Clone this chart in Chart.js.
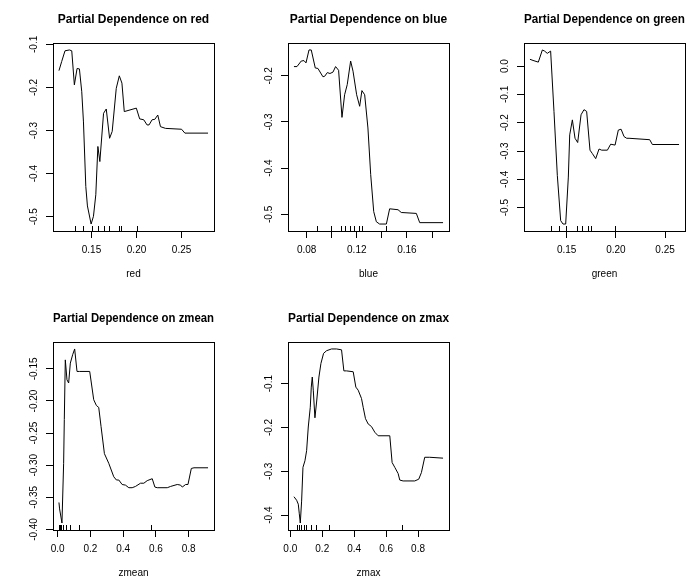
<!DOCTYPE html>
<html>
<head>
<meta charset="utf-8">
<script src="https://cdn.jsdelivr.net/npm/chart.js@4.4.1/dist/chart.umd.min.js"></script>
<style>
  html, body { margin: 0; padding: 0; background: #fff; }
  body { width: 692px; height: 585px; overflow: hidden; position: relative; }
  canvas { position: absolute; }
</style>
</head>
<body>
<canvas id="c1" width="236" height="299" style="left:0px;top:0px"></canvas>
<canvas id="c2" width="236" height="299" style="left:235px;top:0px"></canvas>
<canvas id="c3" width="236" height="299" style="left:471px;top:0px"></canvas>
<canvas id="c4" width="236" height="299" style="left:0px;top:299px"></canvas>
<canvas id="c5" width="236" height="299" style="left:235px;top:299px"></canvas>
<script>
// ---------- data ----------
const redX = [0.1139,0.1169,0.1206,0.1255,0.1281,0.1310,0.1340,0.1366,0.1392,0.1411,0.1437,0.1455,0.1496,0.1522,0.1548,0.1571,0.1593,0.1634,0.1664,0.1701,0.1730,0.1775,0.1809,0.1838,0.1864,0.1998,0.2035,0.2080,0.2117,0.2139,0.2173,0.2203,0.2236,0.2266,0.2322,0.2500,0.2537,0.2794];
const redY = [-0.161,-0.140,-0.115,-0.113,-0.115,-0.194,-0.156,-0.157,-0.210,-0.280,-0.430,-0.475,-0.517,-0.499,-0.449,-0.337,-0.372,-0.260,-0.250,-0.318,-0.302,-0.202,-0.173,-0.190,-0.256,-0.248,-0.273,-0.275,-0.287,-0.287,-0.275,-0.274,-0.264,-0.291,-0.295,-0.297,-0.306,-0.306];
const redRug = [0.1318,0.1411,0.1503,0.1573,0.1640,0.1700,0.1803,0.1829,0.2000];
const redXTicks = [0.15,0.20,0.25];
const redXLabels = ['0.15','0.20','0.25'];
const redYTicks = [-0.5,-0.4,-0.3,-0.2,-0.1];
const redYLabels = ['-0.5','-0.4','-0.3','-0.2','-0.1'];

const blueX = [0.0699,0.0723,0.0757,0.0779,0.0795,0.0819,0.0837,0.0869,0.0890,0.0930,0.0944,0.0965,0.0986,0.1010,0.1031,0.1055,0.1082,0.1103,0.1124,0.1151,0.1170,0.1199,0.1223,0.1241,0.1263,0.1289,0.1311,0.1335,0.1356,0.1382,0.1436,0.1462,0.1529,0.1555,0.1675,0.1702,0.1888];
const blueY = [-0.180,-0.180,-0.168,-0.167,-0.172,-0.144,-0.144,-0.183,-0.184,-0.202,-0.201,-0.193,-0.195,-0.192,-0.180,-0.188,-0.290,-0.241,-0.219,-0.168,-0.190,-0.241,-0.266,-0.232,-0.241,-0.313,-0.414,-0.494,-0.516,-0.521,-0.521,-0.488,-0.490,-0.496,-0.498,-0.518,-0.518];
const blueRug = [0.0882,0.0997,0.1076,0.1107,0.1144,0.1176,0.1216,0.1241,0.1436];
const blueXTicks = [0.08,0.10,0.12,0.14,0.16,0.18];
const blueXLabels = ['0.08','','0.12','','0.16',''];
const blueYTicks = [-0.5,-0.4,-0.3,-0.2];
const blueYLabels = ['-0.5','-0.4','-0.3','-0.2'];

const greenX = [0.1127,0.1158,0.1212,0.1253,0.1276,0.1303,0.1337,0.1371,0.1405,0.1439,0.1463,0.1490,0.1517,0.1531,0.1558,0.1585,0.1612,0.1646,0.1676,0.1703,0.1737,0.1761,0.1795,0.1829,0.1856,0.1914,0.1947,0.1992,0.2025,0.2053,0.2083,0.2110,0.2134,0.2344,0.2371,0.2642];
const greenY = [0.024,0.020,0.014,0.057,0.053,0.045,0.053,-0.160,-0.386,-0.546,-0.558,-0.558,-0.392,-0.243,-0.190,-0.255,-0.270,-0.172,-0.154,-0.160,-0.297,-0.309,-0.327,-0.293,-0.297,-0.297,-0.276,-0.279,-0.226,-0.223,-0.249,-0.255,-0.255,-0.260,-0.277,-0.277];
const greenRug = [0.1344,0.1422,0.1497,0.1602,0.1653,0.1721,0.1751,0.1988];
const greenXTicks = [0.15,0.20,0.25];
const greenXLabels = ['0.15','0.20','0.25'];
const greenYTicks = [-0.5,-0.4,-0.3,-0.2,-0.1,0.0];
const greenYLabels = ['-0.5','-0.4','-0.3','-0.2','-0.1','0.0'];

const zmeanX = [0.0082,0.0120,0.0265,0.0367,0.0408,0.0469,0.0571,0.0673,0.0776,0.0918,0.1041,0.1184,0.1347,0.1959,0.2204,0.2367,0.2510,0.2653,0.2857,0.3122,0.3429,0.3592,0.3735,0.3939,0.4143,0.4347,0.4551,0.4755,0.5061,0.5265,0.5469,0.5776,0.5939,0.6082,0.6694,0.6898,0.7306,0.7510,0.7612,0.7816,0.7959,0.8163,0.8327,0.9184];
const zmeanY = [-0.358,-0.368,-0.390,-0.297,-0.229,-0.136,-0.167,-0.172,-0.141,-0.128,-0.119,-0.154,-0.154,-0.154,-0.198,-0.207,-0.210,-0.240,-0.282,-0.297,-0.318,-0.323,-0.323,-0.330,-0.331,-0.335,-0.335,-0.333,-0.328,-0.328,-0.324,-0.321,-0.334,-0.335,-0.335,-0.333,-0.330,-0.331,-0.334,-0.330,-0.330,-0.305,-0.304,-0.304];
const zmeanRug = [0.010,0.014,0.018,0.023,0.030,0.052,0.073,0.133,0.568];
const zmeanXTicks = [0.0,0.2,0.4,0.6,0.8];
const zmeanXLabels = ['0.0','0.2','0.4','0.6','0.8'];
const zmeanYTicks = [-0.40,-0.35,-0.30,-0.25,-0.20,-0.15];
const zmeanYLabels = ['-0.40','-0.35','-0.30','-0.25','-0.20','-0.15'];

const zmaxX = [0.0229,0.0396,0.0500,0.0563,0.0625,0.0708,0.0792,0.0917,0.1021,0.1125,0.1250,0.1313,0.1375,0.1438,0.1542,0.1646,0.1792,0.1917,0.2083,0.2271,0.2583,0.2896,0.3208,0.3354,0.3521,0.3938,0.4104,0.4250,0.4458,0.4563,0.4708,0.4875,0.5083,0.5292,0.5500,0.6229,0.6375,0.6542,0.6750,0.6854,0.7063,0.7792,0.8042,0.8208,0.8417,0.8729,0.9563];
const zmaxY = [-0.358,-0.366,-0.375,-0.397,-0.418,-0.368,-0.291,-0.276,-0.253,-0.199,-0.154,-0.108,-0.085,-0.115,-0.178,-0.142,-0.085,-0.054,-0.031,-0.025,-0.021,-0.021,-0.023,-0.071,-0.071,-0.073,-0.108,-0.115,-0.134,-0.154,-0.180,-0.192,-0.198,-0.211,-0.219,-0.219,-0.280,-0.291,-0.305,-0.320,-0.322,-0.322,-0.318,-0.303,-0.268,-0.268,-0.270];
const zmaxRug = [0.042,0.056,0.068,0.083,0.099,0.131,0.160,0.242,0.702];
const zmaxXTicks = [0.0,0.2,0.4,0.6,0.8];
const zmaxXLabels = ['0.0','0.2','0.4','0.6','0.8'];
const zmaxYTicks = [-0.4,-0.3,-0.2,-0.1];
const zmaxYLabels = ['-0.4','-0.3','-0.2','-0.1'];

// ---------- drawing ----------
const FONT = '"Liberation Sans", Arial, Helvetica, sans-serif';
const TICK_FONT = { family: FONT, size: 10 };
const measureCtx = document.createElement('canvas').getContext('2d');
measureCtx.font = '10px ' + FONT;

const boxRug = {
  id: 'boxRug',
  afterDatasetsDraw(chart, args, opts) {
    const { ctx, chartArea: a, scales } = chart;
    ctx.save();
    ctx.strokeStyle = '#000';
    ctx.lineWidth = 1;
    ctx.strokeRect(a.left + 0.5, a.top + 0.5, a.right - a.left, a.bottom - a.top);
    ctx.beginPath();
    (opts.rug || []).forEach(v => {
      const x = Math.round(scales.x.getPixelForValue(v)) + 0.5;
      ctx.moveTo(x, a.bottom);
      ctx.lineTo(x, a.bottom - 5);
    });
    ctx.stroke();
    ctx.restore();
  }
};

function padRange(arr) {
  const mn = Math.min(...arr), mx = Math.max(...arr);
  const r = mx - mn;
  return [mn - 0.04 * r, mx + 0.04 * r];
}

function panel(id, name, xs, ys, rug, xTicks, xLabels, yTicks, yLabels) {
  const [xmin, xmax] = padRange(xs);
  const [ymin, ymax] = padRange(ys);
  const widest = Math.max(...yLabels.map(s => measureCtx.measureText(s).width));
  const yPad = 11.5 - widest / 2;
  new Chart(document.getElementById(id), {
    type: 'scatter',
    data: {
      datasets: [{
        data: xs.map((x, i) => ({ x: x, y: ys[i] })),
        showLine: true,
        borderColor: '#000',
        borderWidth: 1,
        pointRadius: 0,
        tension: 0,
        fill: false
      }]
    },
    options: {
      responsive: false,
      animation: false,
      devicePixelRatio: 1,
      layout: { padding: { left: 0, right: 22, top: 0, bottom: 0 } },
      plugins: {
        legend: { display: false },
        tooltip: { enabled: false },
        title: {
          display: true,
          fullSize: false,
          text: 'Partial Dependence on ' + name,
          color: '#000',
          font: { family: FONT, size: 12, weight: 'bold', lineHeight: 1.2 },
          padding: { top: 12, bottom: 16.6 }
        },
        boxRug: { rug: rug }
      },
      scales: {
        x: {
          type: 'linear',
          position: 'bottom',
          min: xmin, max: xmax,
          afterBuildTicks: s => { s.ticks = xTicks.map(v => ({ value: v })); },
          afterFit: s => { s.height = 68; },
          grid: { display: true, drawOnChartArea: false, drawTicks: true, tickLength: 7, color: '#000', lineWidth: 1 },
          border: { display: false },
          ticks: {
            autoSkip: false, maxRotation: 0, minRotation: 0,
            color: '#000', font: TICK_FONT, padding: 6,
            callback: (v, i) => xLabels[i]
          },
          title: { display: true, text: name, color: '#000', font: { family: FONT, size: 10, lineHeight: 1.2 }, padding: { top: 0, bottom: 19 } }
        },
        y: {
          type: 'linear',
          position: 'left',
          min: ymin, max: ymax,
          afterBuildTicks: s => { s.ticks = yTicks.map(v => ({ value: v })); },
          afterFit: s => { s.width = 53; },
          grid: { display: true, drawOnChartArea: false, drawTicks: true, tickLength: 7, color: '#000', lineWidth: 1 },
          border: { display: false },
          ticks: {
            autoSkip: false, minRotation: 90, maxRotation: 90, crossAlign: 'center',
            color: '#000', font: TICK_FONT, padding: yPad,
            callback: (v, i) => yLabels[i]
          }
        }
      }
    },
    plugins: [boxRug]
  });
}

panel('c1', 'red', redX, redY, redRug, redXTicks, redXLabels, redYTicks, redYLabels);
panel('c2', 'blue', blueX, blueY, blueRug, blueXTicks, blueXLabels, blueYTicks, blueYLabels);
panel('c3', 'green', greenX, greenY, greenRug, greenXTicks, greenXLabels, greenYTicks, greenYLabels);
panel('c4', 'zmean', zmeanX, zmeanY, zmeanRug, zmeanXTicks, zmeanXLabels, zmeanYTicks, zmeanYLabels);
panel('c5', 'zmax', zmaxX, zmaxY, zmaxRug, zmaxXTicks, zmaxXLabels, zmaxYTicks, zmaxYLabels);
</script>
</body>
</html>
